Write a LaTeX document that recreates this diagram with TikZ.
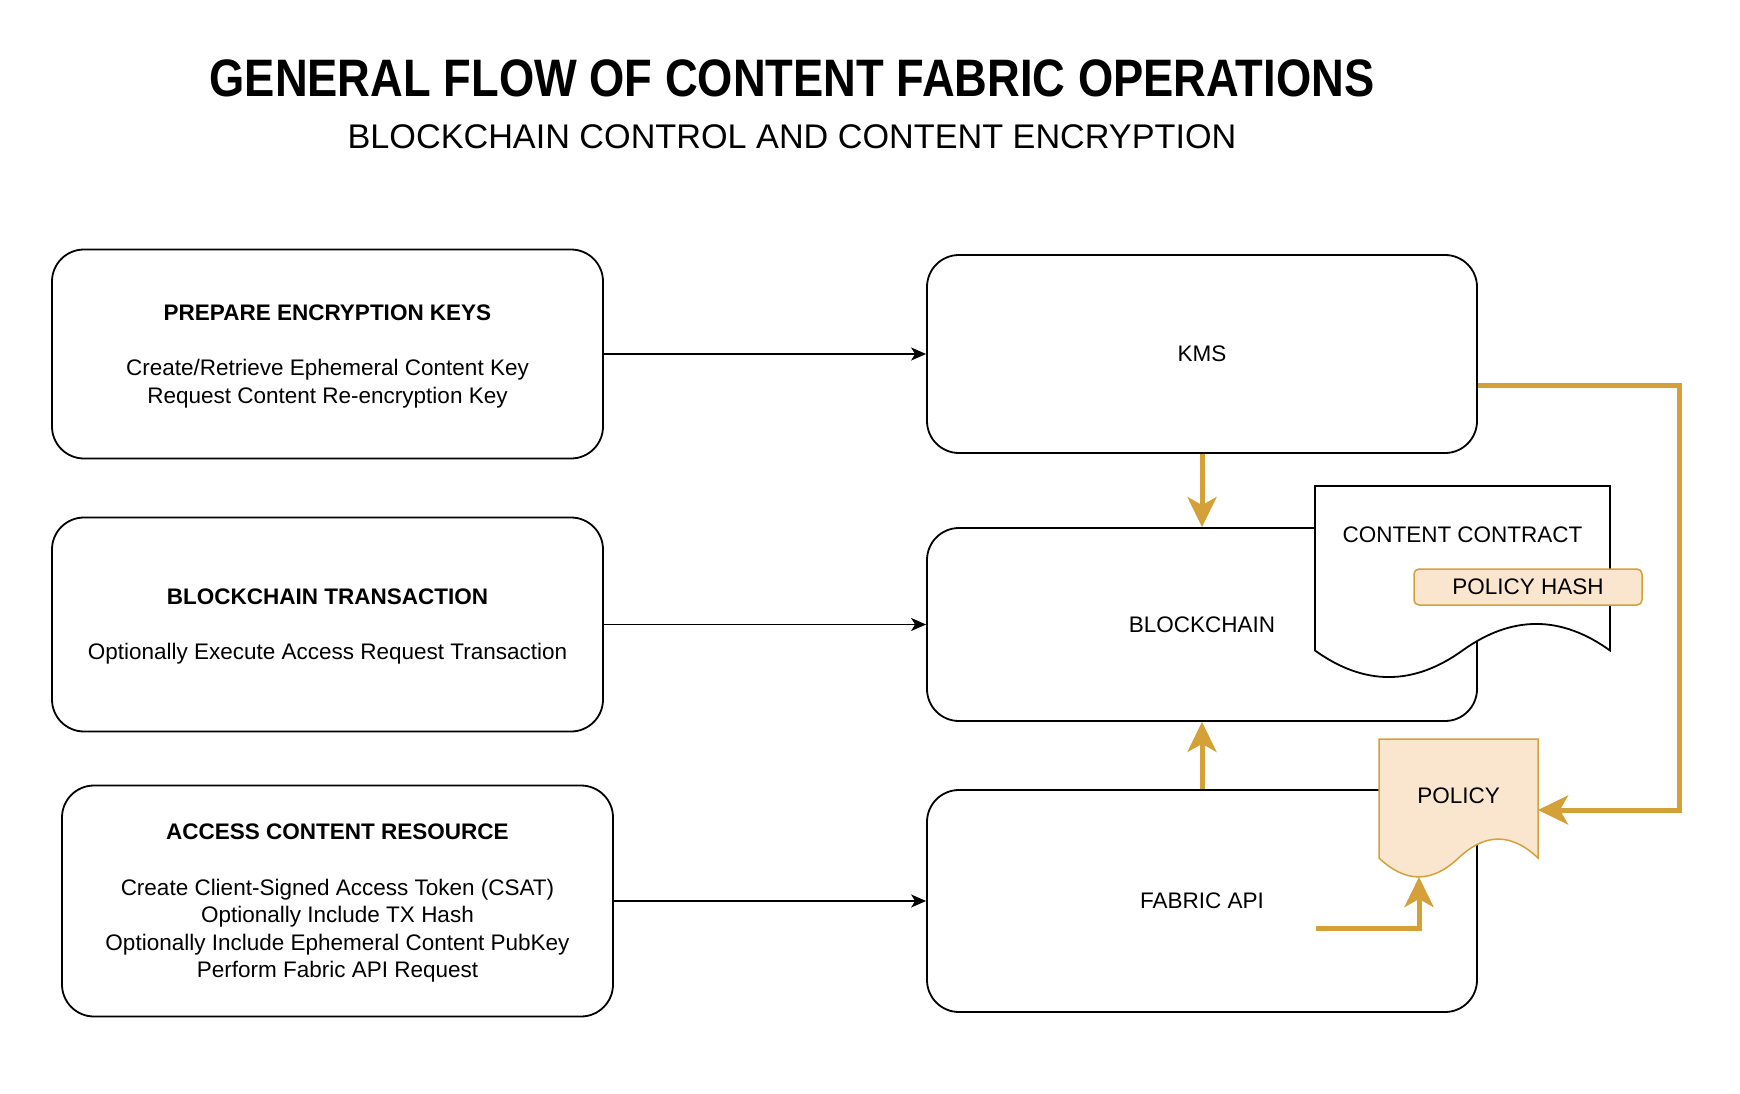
\documentclass[tikz,border=0pt]{standalone}
\usepackage{fontspec}
\setmainfont{Liberation Sans}
\usetikzlibrary{positioning, calc, arrows.meta}
\definecolor{gold}{RGB}{212,160,56}
\definecolor{peach}{RGB}{250,230,207}

\begin{document}
\begin{tikzpicture}[
	x=1pt, y=-1pt,
	font=\fontsize{22.5}{27.6}\selectfont,
	box/.style={draw, line width=1.8pt, rounded corners=32pt, align=center, inner sep=0pt, text depth=0pt},
	tag/.style={draw=gold, fill=peach, line width=1.5pt, rounded corners=5pt, minimum width=228pt, minimum height=36pt, inner sep=0pt},
	arrow/.style={-{Stealth[length=15pt, width=13pt, inset=4pt]}, line width=1.6pt},
	goldarrow/.style={-{Stealth[length=30pt, width=29pt, inset=8pt]}, line width=5pt, color=gold}
	]
	\useasboundingbox (0,0) rectangle (1740,1094);
	
	% Titles
	\node (title) at (792,78) {\scalebox{0.86}[1]{\fontsize{52.7}{60}\selectfont\bfseries GENERAL FLOW OF CONTENT FABRIC OPERATIONS}};
	\node (subtitle) at (792,136.5) {\fontsize{34.2}{40}\selectfont BLOCKCHAIN CONTROL AND CONTENT ENCRYPTION};
	
	% Client side
	\node[box, minimum width=551pt, minimum height=209pt] (prep) at (327.5,354) {\textbf{PREPARE ENCRYPTION KEYS}\\[27.6pt]
		Create/Retrieve Ephemeral Content Key\\ Request Content Re-encryption Key};
	\node[box, minimum width=551pt, minimum height=214pt] (txn) at (327.5,624.5) {\textbf{BLOCKCHAIN TRANSACTION}\\[27.6pt]
		Optionally Execute Access Request Transaction};
	\node[box, minimum width=551pt, minimum height=231pt] (access) at (337.5,901) {\textbf{ACCESS CONTENT RESOURCE}\\[27.6pt]
		Create Client-Signed Access Token (CSAT)\\ Optionally Include TX Hash\\
		Optionally Include Ephemeral Content PubKey\\ Perform Fabric API Request};
	
	% Services
	\node[box, minimum width=550pt, minimum height=198pt] (kms) at (1202,354) {KMS};
	\node[box, minimum width=550pt, minimum height=193pt] (chain) at (1202,624.5) {BLOCKCHAIN};
	\node[box, minimum width=550pt, minimum height=222pt] (fabric) at (1202,901) {FABRIC API};
	
	% Content contract document
	\draw[line width=1.8pt, fill=white] (1315,486) -- (1610,486) -- (1610,650.5)
		.. controls (1560.8,615.1) and (1511.7,615.1) .. (1462.5,650.5)
		.. controls (1413.3,685.9) and (1364.2,685.9) .. (1315,650.5) -- cycle;
	\node (contract) at (1462.5,535) {CONTENT CONTRACT};
	\node[tag] (hash) at (1528,587) {POLICY HASH};
	
	% Policy document
	\draw[draw=gold, line width=1.5pt, fill=peach] (1379,739) -- (1538,739) -- (1538,858)
		.. controls (1511.5,832.8) and (1485,832.8) .. (1458.5,858)
		.. controls (1432,883.2) and (1405.5,883.2) .. (1379,858) -- cycle;
	\node (policy) at (1458.5,796) {POLICY};
	\coordinate (policy-e) at (1538,810);
	\coordinate (policy-s) at (1419,877);
	\coordinate (api-out) at (1316,928);
	
	% Arrows
	\draw[arrow] (prep.east) -- (kms.west);
	\draw[arrow] (txn.east) -- (chain.west);
	\draw[arrow] (access.east) -- (fabric.west);
	\draw[goldarrow] (kms.south) -- (chain.north);
	\draw[goldarrow] (fabric.north) -- (chain.south);
	\draw[goldarrow] ($(kms.east)+(0,31)$) -- ++(202,0) |- (policy-e);
	\draw[goldarrow] (api-out) -| (policy-s);
	
\end{tikzpicture}
\end{document}
